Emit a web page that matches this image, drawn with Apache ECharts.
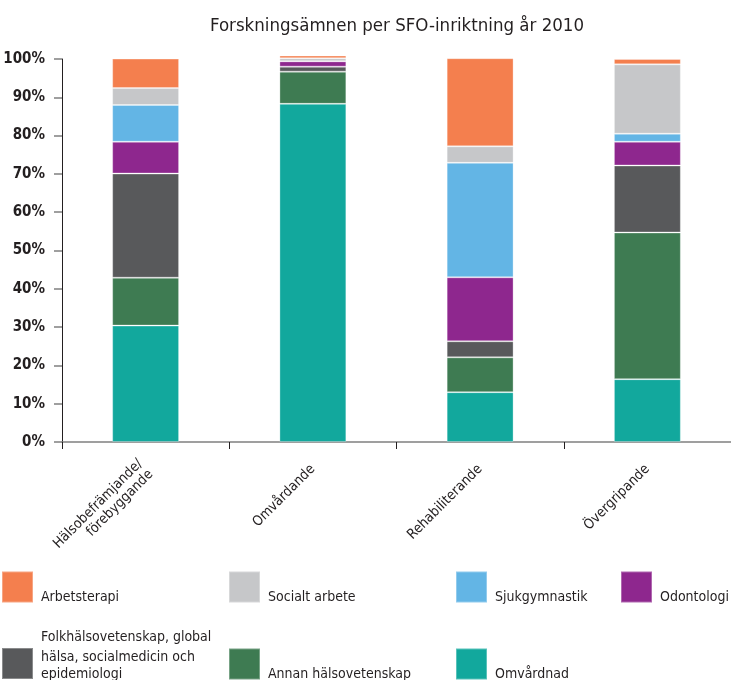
<!DOCTYPE html>
<html>
<head>
<meta charset="utf-8">
<title>Forskningsämnen per SFO-inriktning år 2010</title>
<script src="https://cdn.jsdelivr.net/npm/echarts@6/dist/echarts.min.js"></script>
<style>
  html, body { margin: 0; padding: 0; background: #fff; }
  #chart { width: 731px; height: 680px; }
</style>
</head>
<body>
<div id="chart"></div>
<script>
// Data (andel i procent)
const categories = ['Hälsobefrämjande/\nförebyggande', 'Omvårdande', 'Rehabiliterande', 'Övergripande'];

const omvardnad      = [30.4, 88.3, 13.0, 16.4];
const annanHalsovet  = [12.5, 8.4, 9.1, 38.3];
const folkhalsovet   = [27.2, 1.3, 4.2, 17.5];
const odontologi     = [8.3, 1.4, 16.7, 6.2];
const sjukgymnastik  = [9.6, 0, 29.9, 2.1];
const socialtArbete  = [4.4, 0.8, 4.3, 18.1];
const arbetsterapi   = [7.7, 0.7, 23.0, 1.4];

const yTicks = [0, 10, 20, 30, 40, 50, 60, 70, 80, 90, 100];

// Serier nerifrån och upp
const SERIES = [
  { name: 'Omvårdnad', data: omvardnad, color: '#12a89d' },
  { name: 'Annan hälsovetenskap', data: annanHalsovet, color: '#3e7b52' },
  { name: 'Folkhälsovetenskap, global hälsa, socialmedicin och epidemiologi', data: folkhalsovet, color: '#58595b' },
  { name: 'Odontologi', data: odontologi, color: '#8e278e' },
  { name: 'Sjukgymnastik', data: sjukgymnastik, color: '#63b5e5' },
  { name: 'Socialt arbete', data: socialtArbete, color: '#c6c7c9' },
  { name: 'Arbetsterapi', data: arbetsterapi, color: '#f47f4e' }
];

const FONT = '"Liberation Sans Narrow", "DejaVu Sans Condensed", sans-serif';
const TEXT_COLOR = '#231f20';

// Legendens placering (fyra kolumner, två rader)
// top = överkant på hela posten (text + ikon)
const LEGEND_POS = [
  { name: 'Arbetsterapi', left: 1, top: 570 },
  { name: 'Socialt arbete', left: 228, top: 570 },
  { name: 'Sjukgymnastik', left: 455, top: 570 },
  { name: 'Odontologi', left: 620, top: 570 },
  { name: 'Folkhälsovetenskap, global hälsa, socialmedicin och epidemiologi', left: 1, top: 630, multi: true },
  { name: 'Annan hälsovetenskap', left: 228, top: 647 },
  { name: 'Omvårdnad', left: 455, top: 647 }
];

const richBase = { fontFamily: FONT, fontSize: 14, color: TEXT_COLOR };

function buildLegends() {
  return LEGEND_POS.map(pos => ({
    data: [pos.name],
    left: pos.left,
    top: pos.top,
    orient: 'horizontal',
    icon: 'rect',
    itemWidth: 31,
    itemHeight: 31,
    padding: 0,
    selectedMode: false,
    formatter: pos.multi
      ? '{t|Folkhälsovetenskap, global}\n{t|hälsa, socialmedicin och}\n{b|epidemiologi}'
      : '{s|{name}}',
    textStyle: {
      ...richBase,
      rich: {
        s: { ...richBase, lineHeight: 19, padding: [20, 0, 0, 3] },
        t: { ...richBase, lineHeight: 20, padding: [0, 0, 0, 3] },
        b: { ...richBase, lineHeight: 33, verticalAlign: 'top', padding: [0, 0, 0, 3] }
      }
    }
  }));
}

const chart = echarts.init(document.getElementById('chart'));

chart.setOption({
  animation: false,
  backgroundColor: '#fff',
  title: {
    text: 'Forskningsämnen per SFO-inriktning år 2010',
    left: 392,
    textAlign: 'center',
    top: 12,
    textStyle: {
      fontFamily: FONT,
      fontSize: 18.5,
      fontWeight: 'normal',
      color: TEXT_COLOR
    }
  },
  legend: buildLegends(),
  grid: {
    left: 62,
    top: 59,
    width: 672,
    height: 383,
    containLabel: false
  },
  xAxis: {
    type: 'category',
    data: categories,
    axisLine: { lineStyle: { color: '#808080', width: 1.5 } },
    axisTick: { show: true, length: 7, lineStyle: { color: '#231f20' } },
    axisLabel: {
      rotate: 45,
      interval: 0,
      margin: 25,
      fontFamily: FONT,
      fontSize: 14,
      color: TEXT_COLOR,
      lineHeight: 15
    }
  },
  yAxis: {
    type: 'value',
    min: yTicks[0],
    max: yTicks[yTicks.length - 1],
    interval: 10,
    splitLine: { show: false },
    axisLine: { show: true, lineStyle: { color: '#231f20', width: 1 } },
    axisTick: { show: true, length: 8, lineStyle: { color: '#808080', width: 1.5 } },
    axisLabel: {
      formatter: '{value}%',
      margin: 17,
      fontFamily: FONT,
      fontSize: 15,
      fontWeight: 'bold',
      color: TEXT_COLOR
    }
  },
  series: SERIES.map(s => ({
    name: s.name,
    type: 'bar',
    stack: 'total',
    barWidth: '40%',
    clip: false,
    data: s.data,
    itemStyle: {
      color: s.color,
      borderColor: 'rgba(255,255,255,0.3)',
      borderWidth: 1
    },
    emphasis: { disabled: true }
  }))
});
</script>
</body>
</html>
